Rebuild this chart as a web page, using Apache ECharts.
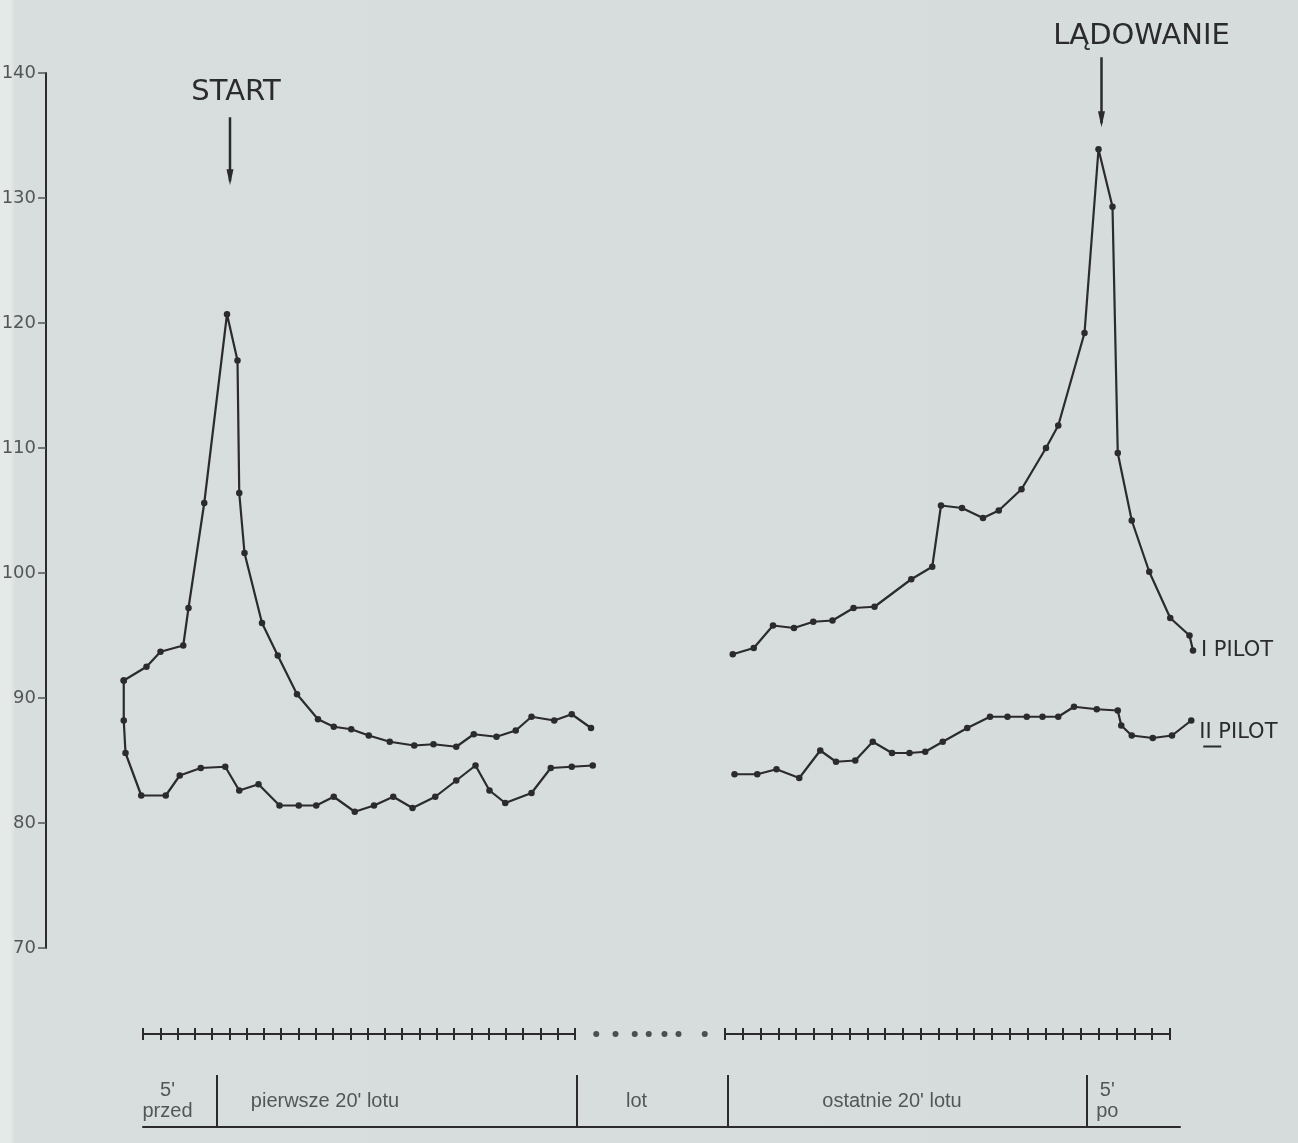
<!DOCTYPE html>
<html>
<head>
<meta charset="utf-8">
<script src="https://cdn.jsdelivr.net/npm/echarts@6/dist/echarts.min.js"></script>
<style>
html, body { margin: 0; padding: 0; background: #d5dcdb; }
#chart { width: 1298px; height: 1143px; }
</style>
</head>
<body>
<div id="chart"></div>
<script>

// [minuta na rysunku, tętno] - 0 = początek "5' przed"
let pilot1Before = [
    [-1.1, 91.4], [0.2, 92.5], [1.0, 93.7], [2.3, 94.2], [2.6, 97.2], [3.5, 105.6],
    [4.8, 120.7], [5.4, 117.0], [5.5, 106.4], [5.8, 101.6], [6.8, 96.0], [7.7, 93.4],
    [8.8, 90.3], [10.0, 88.3], [10.9, 87.7], [11.9, 87.5], [12.9, 87.0], [14.1, 86.5],
    [15.5, 86.2], [16.6, 86.3], [17.9, 86.1], [18.9, 87.1], [20.2, 86.9], [21.3, 87.4],
    [22.2, 88.5], [23.5, 88.2], [24.5, 88.7], [25.6, 87.6]
];

let pilot2Before = [
    [-1.1, 91.4], [-1.1, 88.2], [-1.0, 85.6], [-0.1, 82.2], [1.3, 82.2], [2.1, 83.8],
    [3.3, 84.4], [4.7, 84.5], [5.5, 82.6], [6.6, 83.1], [7.8, 81.4], [8.9, 81.4],
    [9.9, 81.4], [10.9, 82.1], [12.1, 80.9], [13.2, 81.4], [14.3, 82.1], [15.4, 81.2],
    [16.7, 82.1], [17.9, 83.4], [19.0, 84.6], [19.8, 82.6], [20.7, 81.6], [22.2, 82.4],
    [23.3, 84.4], [24.5, 84.5], [25.7, 84.6]
];

let pilot1After = [
    [33.7, 93.5], [34.9, 94.0], [36.0, 95.8], [37.2, 95.6], [38.3, 96.1], [39.4, 96.2],
    [40.6, 97.2], [41.8, 97.3], [43.9, 99.5], [45.1, 100.5], [45.6, 105.4], [46.8, 105.2],
    [48.0, 104.4], [48.9, 105.0], [50.2, 106.7], [51.6, 110.0], [52.3, 111.8], [53.8, 119.2],
    [54.6, 133.9], [55.4, 129.3], [55.7, 109.6], [56.5, 104.2], [57.5, 100.1], [58.7, 96.4],
    [59.8, 95.0], [60.0, 93.8]
];

let pilot2After = [
    [33.8, 83.9], [35.1, 83.9], [36.2, 84.3], [37.5, 83.6], [38.7, 85.8], [39.6, 84.9],
    [40.7, 85.0], [41.7, 86.5], [42.8, 85.6], [43.8, 85.6], [44.7, 85.7], [45.7, 86.5],
    [47.1, 87.6], [48.4, 88.5], [49.4, 88.5], [50.5, 88.5], [51.4, 88.5], [52.3, 88.5],
    [53.2, 89.3], [54.5, 89.1], [55.7, 89.0], [55.9, 87.8], [56.5, 87.0], [57.7, 86.8],
    [58.8, 87.0], [59.9, 88.2]
];

let yTicks = [70, 140, 10];                 // min, max, krok
let gapDots = [25.9, 27.0, 28.1, 28.9, 29.8, 30.6, 32.1];
let sectionEdges = [4.2, 24.8, 33.4, 53.9];
let sectionMid = [1.4, 10.4, 28.2, 42.8, 55.1];
let sectionNames = ["5'\nprzed", "pierwsze 20' lotu", "lot", "ostatnie 20' lotu", "5'\npo"];


let INK = '#2b2b2b';
let PX_PER_MIN = 17.5;
let ORIGIN_X = 143;
let AXIS_X = 46;
let PLOT_W = 1182;
let xMin = (AXIS_X - ORIGIN_X) / PX_PER_MIN;
let xMax = xMin + PLOT_W / PX_PER_MIN;


function pilotSeries(name, data, endText, endOffset){
    let s = {
        name: name,
        type: 'line',
        xAxisIndex: 0,
        yAxisIndex: 0,
        data: data,
        symbol: 'circle',
        symbolSize: 6.5,
        showSymbol: true,
        lineStyle: { color: INK, width: 2.2 },
        itemStyle: { color: INK },
        emphasis: { disabled: true },
        z: 3
    };
    if (endText){
        s.endLabel = {
            show: true,
            formatter: endText,
            distance: 8,
            offset: endOffset,
            color: INK,
            fontSize: 21,
            fontFamily: '"DejaVu Sans"'
        };
    }
    return s;
}


function rulerAxes(gridIndex, pos){
    return {
        type: 'value',
        gridIndex: gridIndex,
        position: pos,
        min: 0,
        max: 25,
        interval: 1,
        axisLine: { show: pos == 'bottom', onZero: false, lineStyle: { color: INK, width: 2 } },
        axisTick: { show: true, length: 6, lineStyle: { color: INK, width: 2 } },
        axisLabel: { show: false },
        splitLine: { show: false }
    };
}

function hiddenY(gridIndex){
    return { type: 'value', gridIndex: gridIndex, min: 0, max: 1, show: false };
}


let myChart = echarts.init(document.getElementById('chart'));

let option = {
    animation: false,
    backgroundColor: {
        type: 'linear', x: 0, y: 0, x2: 1, y2: 0,
        colorStops: [
            { offset: 0, color: '#e5e9e8' },
            { offset: 0.008, color: '#e5e9e8' },
            { offset: 0.012, color: '#d7dedd' },
            { offset: 1, color: '#d5dcdb' }
        ]
    },
    grid: [
        { left: AXIS_X, top: 73, width: PLOT_W, height: 875, outerBoundsMode: 'none' },
        { left: 143, top: 1034, width: 432, height: 0, outerBoundsMode: 'none' },
        { left: 725, top: 1034, width: 445, height: 0, outerBoundsMode: 'none' },
        { left: AXIS_X, top: 1034, width: PLOT_W, height: 0, outerBoundsMode: 'none' },
        { left: ORIGIN_X, top: 1075, width: 1037, height: 52, outerBoundsMode: 'none' }
    ],
    xAxis: [
        { type: 'value', gridIndex: 0, min: xMin, max: xMax, show: false },
        rulerAxes(1, 'bottom'),
        rulerAxes(1, 'top'),
        rulerAxes(2, 'bottom'),
        rulerAxes(2, 'top'),
        { type: 'value', gridIndex: 3, min: xMin, max: xMax, show: false },
        {
            type: 'value', gridIndex: 4, min: 0, max: 1037 / PX_PER_MIN,
            axisLine: { show: true, onZero: false, lineStyle: { color: INK, width: 2 } },
            axisTick: { show: false },
            axisLabel: { show: false },
            splitLine: { show: false }
        }
    ],
    yAxis: [
        {
            type: 'value',
            gridIndex: 0,
            min: yTicks[0],
            max: yTicks[1],
            interval: yTicks[2],
            axisLine: { show: true, onZero: false, lineStyle: { color: INK, width: 2 } },
            axisTick: { show: true, length: 8, lineStyle: { color: '#555', width: 1.5 } },
            axisLabel: { margin: 10, color: '#555', fontSize: 18, fontFamily: '"DejaVu Sans"' },
            splitLine: { show: false }
        },
        hiddenY(1),
        hiddenY(2),
        hiddenY(3),
        hiddenY(4)
    ],
    series: [
        pilotSeries('I pilot (przed)', pilot1Before),
        pilotSeries('II pilot (przed)', pilot2Before),
        pilotSeries('I pilot', pilot1After, 'I PILOT', [0, 0]),
        pilotSeries('II pilot', pilot2After, 'II PILOT', [0, 12]),
        {
            type: 'scatter',
            xAxisIndex: 5,
            yAxisIndex: 3,
            data: gapDots.map(function (m) { return [m, 0]; }),
            symbolSize: 6,
            itemStyle: { color: INK },
            emphasis: { disabled: true }
        },
        {
            type: 'scatter',
            xAxisIndex: 6,
            yAxisIndex: 4,
            data: sectionMid.map(function (m, i) { return { name: sectionNames[i], value: [m, 0.5] }; }),
            symbolSize: 1,
            itemStyle: { color: 'rgba(0,0,0,0)' },
            label: {
                show: true,
                position: 'inside',
                formatter: '{b}',
                align: 'center',
                color: '#333',
                fontSize: 20,
                lineHeight: 21,
                fontFamily: '"Liberation Sans"'
            },
            emphasis: { disabled: true },
            markLine: {
                silent: true,
                symbol: ['none', 'none'],
                label: { show: false },
                lineStyle: { color: INK, width: 2, type: 'solid' },
                data: sectionEdges.map(function (e) { return { xAxis: e }; })
            }
        }
    ]
};

myChart.setOption(option);


// strzałki START / LĄDOWANIE nad szczytami krzywej I pilota
function peakOf(data){
    let best = data[0];
    for (let x = 0; x < data.length; x++){
        if (data[x][1] > best[1]) best = data[x];
    }
    return best;
}

function arrowTo(px, yTop, yBottom){
    return [
        { type: 'line', shape: { x1: px, y1: yTop, x2: px, y2: yBottom - 4 },
          style: { stroke: INK, lineWidth: 2.5 } },
        { type: 'polygon', shape: { points: [[px - 3.5, yBottom - 16], [px + 3.5, yBottom - 16], [px, yBottom]] },
          style: { fill: INK } }
    ];
}

let pStart = myChart.convertToPixel({ seriesIndex: 0 }, peakOf(pilot1Before));
let pLand = myChart.convertToPixel({ seriesIndex: 2 }, peakOf(pilot1After));
let pEnd2 = myChart.convertToPixel({ seriesIndex: 3 }, pilot2After[pilot2After.length - 1]);

let graphics = [];
graphics.push({
    type: 'text', x: pStart[0] + 9, y: pStart[1] - 222,
    style: { text: 'START', fill: INK, fontSize: 29, fontFamily: '"DejaVu Sans"', align: 'center', verticalAlign: 'middle' }
});
graphics = graphics.concat(arrowTo(pStart[0] + 3, pStart[1] - 197, pStart[1] - 129));

graphics.push({
    type: 'text', x: pLand[0] + 43, y: pLand[1] - 113,
    style: { text: 'LĄDOWANIE', fill: INK, fontSize: 29, fontFamily: '"DejaVu Sans"', align: 'center', verticalAlign: 'middle' }
});
graphics = graphics.concat(arrowTo(pLand[0] + 3, pLand[1] - 92, pLand[1] - 22));

graphics.push({
    type: 'line', shape: { x1: pEnd2[0] + 12, y1: pEnd2[1] + 26, x2: pEnd2[0] + 30, y2: pEnd2[1] + 26 },
    style: { stroke: INK, lineWidth: 2 }
});

myChart.setOption({ graphic: graphics });

</script>
</body>
</html>
